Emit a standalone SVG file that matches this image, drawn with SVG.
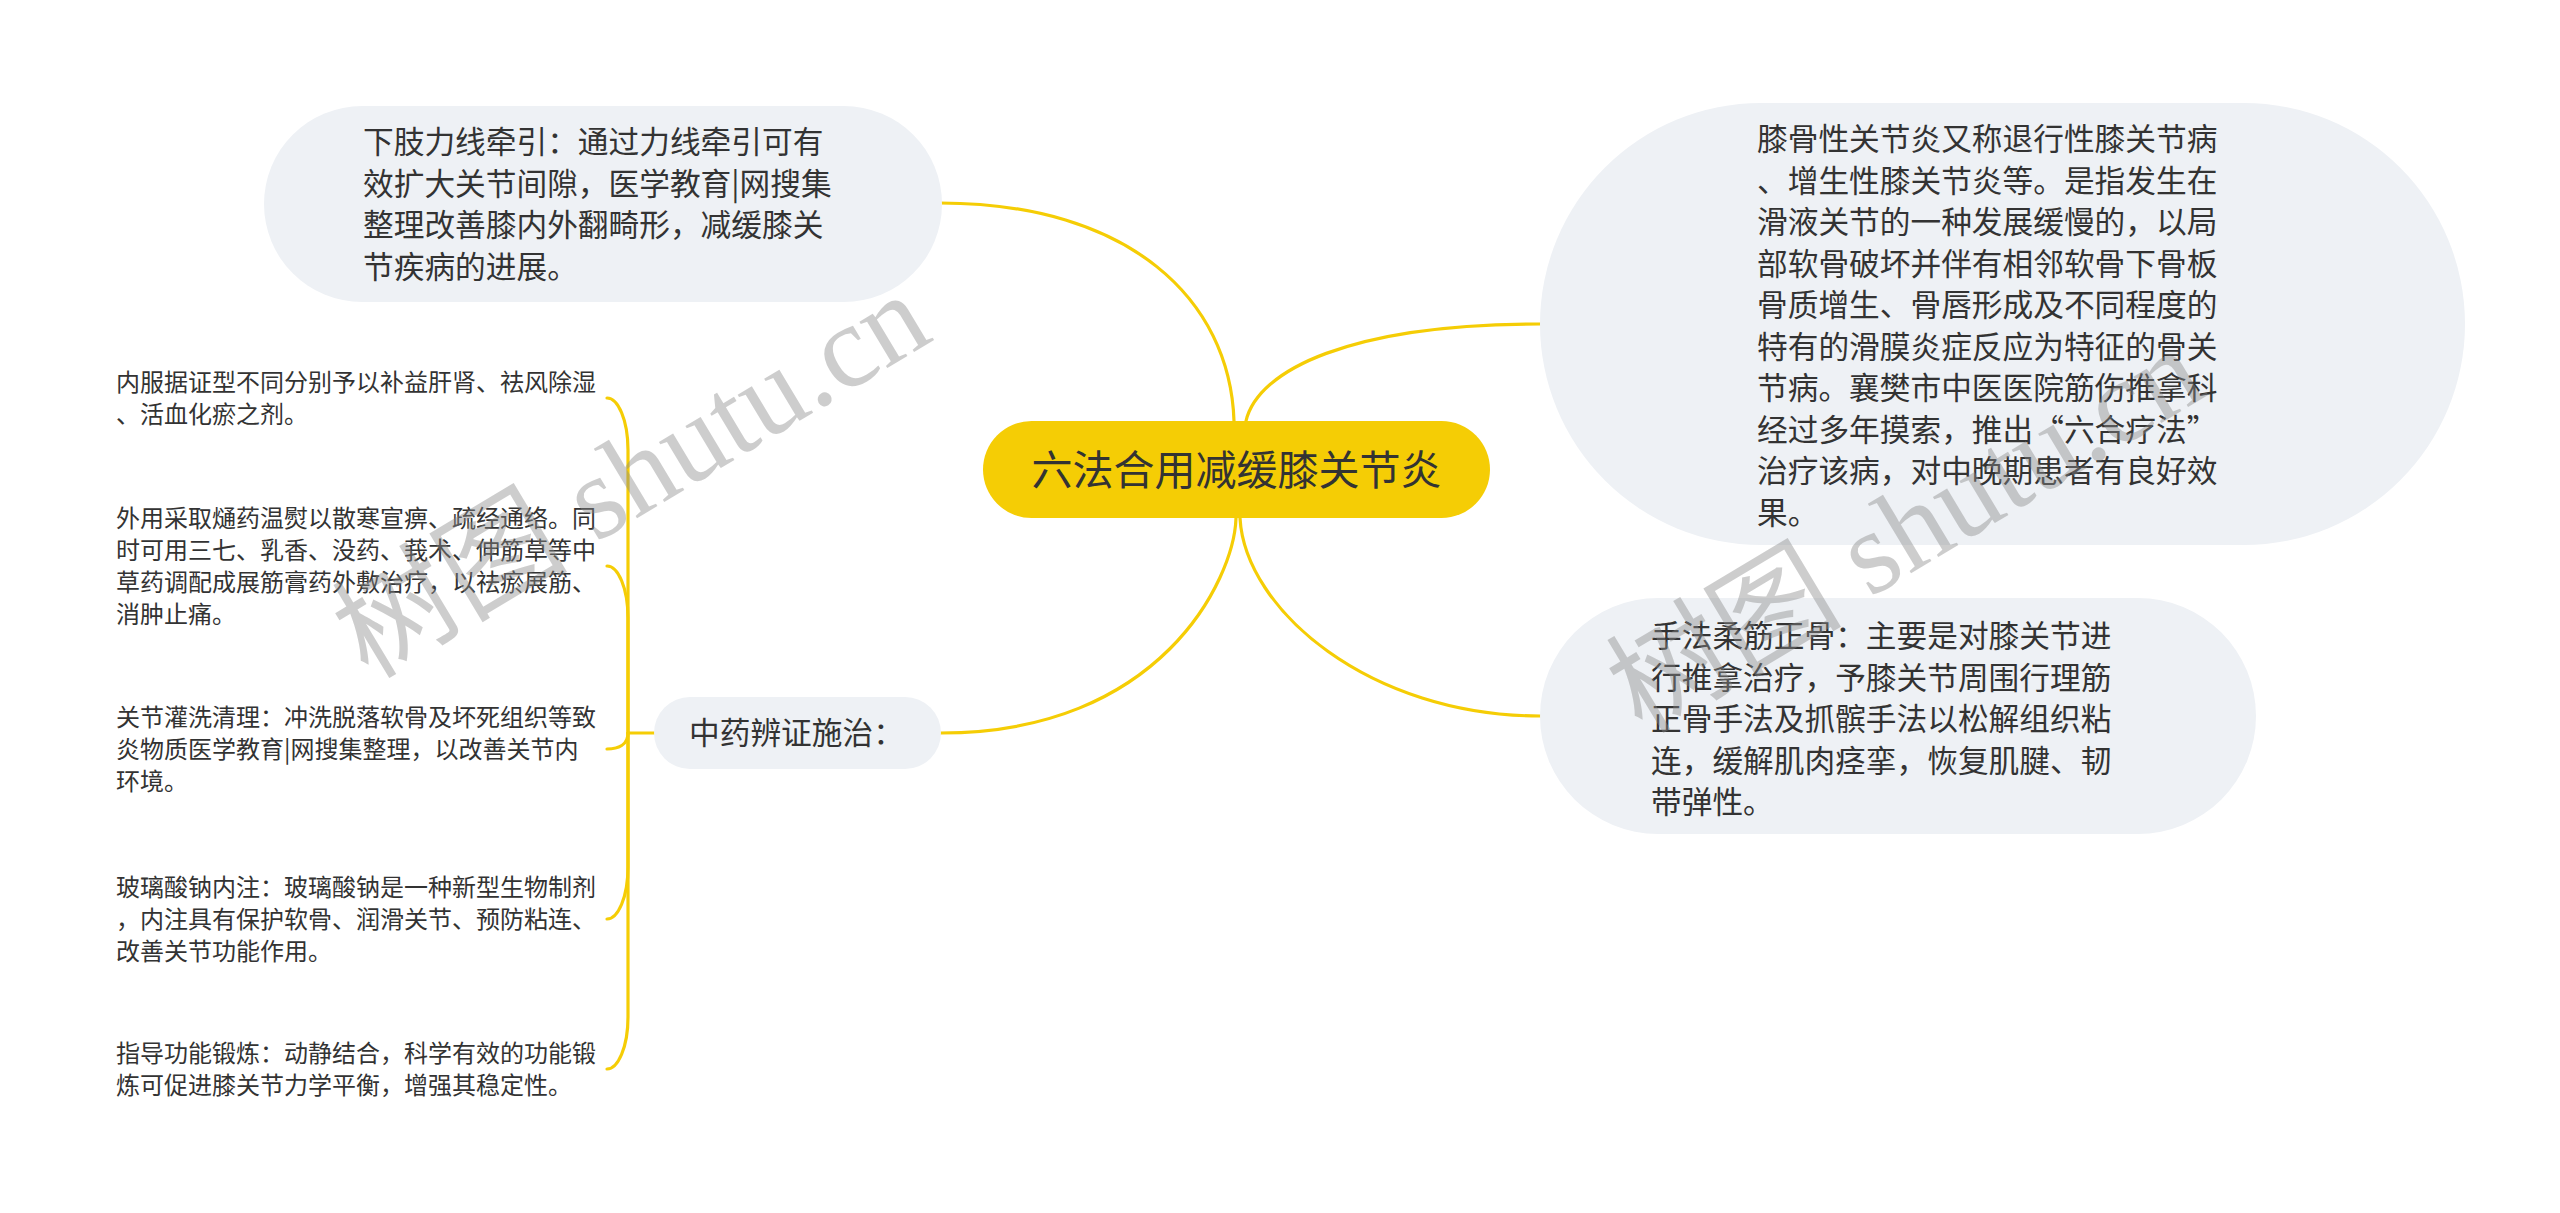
<svg xmlns="http://www.w3.org/2000/svg" width="2560" height="1213" viewBox="0 0 2560 1213">
<style>
.bg{fill:#EEF1F5}
.root{fill:#F5CD05}
.t{font-family:'Noto Sans CJK SC','Noto Sans CJK JP',sans-serif;fill:#333333}
.m{font-size:30.7px}
.s{font-size:24px}
.conn{fill:none;stroke:#F5CD05;stroke-width:3.2;stroke-linecap:round}
.wm{font-family:'Liberation Serif','Noto Sans CJK SC',serif;font-size:118px;fill:#8a8a8a;opacity:0.42}
</style>
<rect width="2560" height="1213" fill="#FFFFFF"/>
<g id="connectors">
<path class="conn" d="M1234,421 C1230,300 1130,203 940,203"/>
<path class="conn" d="M1246,421 C1258,370 1350,324 1540,324"/>
<path class="conn" d="M1236,518 C1234,580 1160,733 941,733"/>
<path class="conn" d="M1240,518 C1245,610 1370,716 1540,716"/>
<path class="conn" d="M654,733 H628"/>
<path class="conn" d="M628,733 V450 C628,420 618,398 607,398"/>
<path class="conn" d="M628,733 V618 C628,588 618,566 607,566"/>
<path class="conn" d="M628,733 C628,745 618,749 607,749"/>
<path class="conn" d="M628,733 V867 C628,897 618,919 607,919"/>
<path class="conn" d="M628,733 V1017 C628,1047 618,1069 607,1069"/>
</g>
<g id="root">
<rect class="root" x="983" y="421" width="507" height="97" rx="48.5"/>
<text class="t" x="1236.5" y="484.5" font-size="41" text-anchor="middle">六法合用减缓膝关节炎</text>
</g>
<g id="n-traction">
<rect class="bg" x="264" y="106" width="678" height="196" rx="98"/>
<text class="t m" x="363"><tspan x="363" y="153">下肢力线牵引：通过力线牵引可有</tspan><tspan x="363" y="194.5">效扩大关节间隙，医学教育|网搜集</tspan><tspan x="363" y="236">整理改善膝内外翻畸形，减缓膝关</tspan><tspan x="363" y="277.5">节疾病的进展。</tspan></text>
</g>
<g id="n-intro">
<rect class="bg" x="1540" y="103" width="925" height="442" rx="221"/>
<text class="t m"><tspan x="1757" y="150.3">膝骨性关节炎又称退行性膝关节病</tspan><tspan x="1757" y="191.8">、增生性膝关节炎等。是指发生在</tspan><tspan x="1757" y="233.3">滑液关节的一种发展缓慢的，以局</tspan><tspan x="1757" y="274.8">部软骨破坏并伴有相邻软骨下骨板</tspan><tspan x="1757" y="316.3">骨质增生、骨唇形成及不同程度的</tspan><tspan x="1757" y="357.8">特有的滑膜炎症反应为特征的骨关</tspan><tspan x="1757" y="399.3">节病。襄樊市中医医院筋伤推拿科</tspan><tspan x="1757" y="440.8">经过多年摸索，推出“六合疗法”</tspan><tspan x="1757" y="482.3">治疗该病，对中晚期患者有良好效</tspan><tspan x="1757" y="523.8">果。</tspan></text>
</g>
<g id="n-manual">
<rect class="bg" x="1540" y="598" width="716" height="236" rx="118"/>
<text class="t m"><tspan x="1651" y="647.3">手法柔筋正骨：主要是对膝关节进</tspan><tspan x="1651" y="688.8">行推拿治疗，予膝关节周围行理筋</tspan><tspan x="1651" y="730.3">正骨手法及抓髌手法以松解组织粘</tspan><tspan x="1651" y="771.8">连，缓解肌肉痉挛，恢复肌腱、韧</tspan><tspan x="1651" y="813.3">带弹性。</tspan></text>
</g>
<g id="n-tcm">
<rect class="bg" x="654" y="697" width="287" height="72" rx="36"/>
<text class="t m" x="689" y="744.3">中药辨证施治：</text>
</g>
<g id="leaf-1">
<text class="t s"><tspan x="116" y="390.8">内服据证型不同分别予以补益肝肾、祛风除湿</tspan><tspan x="116" y="422.8">、活血化瘀之剂。</tspan></text>
</g>
<g id="leaf-2">
<text class="t s"><tspan x="116" y="526.8">外用采取熥药温熨以散寒宣痹、疏经通络。同</tspan><tspan x="116" y="558.8">时可用三七、乳香、没药、莪术、伸筋草等中</tspan><tspan x="116" y="590.8">草药调配成展筋膏药外敷治疗，以祛瘀展筋、</tspan><tspan x="116" y="622.8">消肿止痛。</tspan></text>
</g>
<g id="leaf-3">
<text class="t s"><tspan x="116" y="725.8">关节灌洗清理：冲洗脱落软骨及坏死组织等致</tspan><tspan x="116" y="757.8">炎物质医学教育|网搜集整理，以改善关节内</tspan><tspan x="116" y="789.8">环境。</tspan></text>
</g>
<g id="leaf-4">
<text class="t s"><tspan x="116" y="895.8">玻璃酸钠内注：玻璃酸钠是一种新型生物制剂</tspan><tspan x="116" y="927.8">，内注具有保护软骨、润滑关节、预防粘连、</tspan><tspan x="116" y="959.8">改善关节功能作用。</tspan></text>
</g>
<g id="leaf-5">
<text class="t s"><tspan x="116" y="1061.8">指导功能锻炼：动静结合，科学有效的功能锻</tspan><tspan x="116" y="1093.8">炼可促进膝关节力学平衡，增强其稳定性。</tspan></text>
</g>
<g id="watermarks">
<text class="wm" x="368" y="680" transform="rotate(-31 368 680)">树图 shutu.cn</text>
<text class="wm" x="1642" y="735" transform="rotate(-31 1642 735)">树图 shutu.cn</text>
</g>
</svg>
